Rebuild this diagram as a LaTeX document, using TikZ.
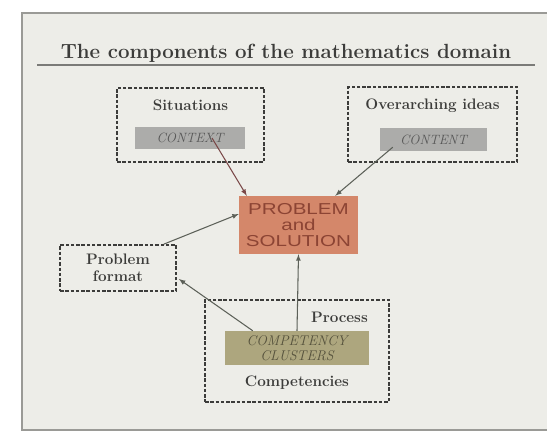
\documentclass[tikz,border=0pt]{standalone}
\usepackage{fontspec}
\newfontfamily\probfont[FakeStretch=1.3]{Liberation Sans}
\usetikzlibrary{positioning,calc}

\definecolor{panelbg}{HTML}{EDEDE8}
\definecolor{panelline}{HTML}{9A9A96}
\definecolor{inkgray}{HTML}{3C3C3A}
\definecolor{greybox}{HTML}{ACACAA}
\definecolor{greytext}{HTML}{565656}
\definecolor{probbox}{HTML}{D4876A}
\definecolor{probtext}{HTML}{8C4434}
\definecolor{clusbox}{HTML}{ADA67E}
\definecolor{clustext}{HTML}{55513C}
\definecolor{arrowgray}{HTML}{5C6058}
\definecolor{arrowred}{HTML}{7A4848}

\begin{document}
\begin{tikzpicture}[
    x=0.03cm, y=-0.03cm,
    every node/.style={inner sep=0pt, text=inkgray},
    size/.style 2 args={minimum width=#1*0.03cm, minimum height=#2*0.03cm},
    dashbox/.style={draw=inkgray, line width=1.5pt, dash pattern=on 3pt off 1.5pt},
    lbl/.style={font=\fontsize{13}{14.5}\selectfont\bfseries, align=center},
    greyfill/.style={fill=greybox, text=greytext, font=\fontsize{11.5}{12}\selectfont\itshape},
    conn/.style={->, >=latex, line width=0.9pt, draw=arrowgray}
]

% Rahmen
\useasboundingbox (0,0) rectangle (547,434);
\fill[white] (0,0) rectangle (547,434);
\fill[panelbg] (22,13) rectangle (547,430);
\draw[panelline, line width=1pt] (547,13) -- (22,13) -- (22,430) -- (547,430);

% Titel
\node[font=\fontsize{17.5}{20}\selectfont\bfseries] (title) at (286,53) {The components of the mathematics domain};
\draw[panelline!80!black, line width=1pt] (37,65) -- (535,65);

% gestrichelte Kästen
\node[dashbox, size={147}{74}] (sit) at (190.5,125) {};
\node[dashbox, size={169}{75}] (over) at (432.5,124.5) {};
\node[dashbox, size={116}{46}, lbl] (fmt) at (118,268) {Problem\\format};
\node[dashbox, size={184}{102}] (comp) at (297,351) {};

% Beschriftungen
\node[lbl, below=11pt of sit.north] {Situations};
\node[lbl, below=11pt of over.north] {Overarching ideas};
\node[lbl, anchor=east] (proc) at (368,317) {Process};
\node[lbl] (compl) at (297,383) {Competencies};

% gefüllte Kästen
\node[greyfill, size={110}{22}] (ctx) at (190,138) {CONTEXT};
\node[greyfill, size={107}{23}] (cnt) at (433.5,139.5) {CONTENT};
\node[size={119}{58}, fill=probbox, text=probtext, align=center,
      font=\fontsize{13.5}{13.8}\selectfont\probfont] (prob) at (298.5,225) {PROBLEM\\and\\SOLUTION};
\node[size={144}{34}, fill=clusbox, text=clustext, align=center,
      font=\fontsize{12}{12.5}\selectfont\itshape] (clus) at (297,348) {COMPETENCY\\CLUSTERS};

% Pfeile
\draw[conn, draw=arrowred] ($(ctx.center)+(22,0)$) -- ($(prob.north west)+(8,0)$);
\draw[conn] ($(cnt.south west)+(13,-4)$) -- ($(prob.north east)+(-23,0)$);
\draw[conn] ($(fmt.north east)+(-13,0)$) -- ($(prob.west)+(0,-11)$);
\draw[conn] ($(clus.north west)+(28,0)$) -- ($(fmt.east)+(2,11)$);
\draw[conn] (clus.north) -- (prob.south);

\end{tikzpicture}
\end{document}
